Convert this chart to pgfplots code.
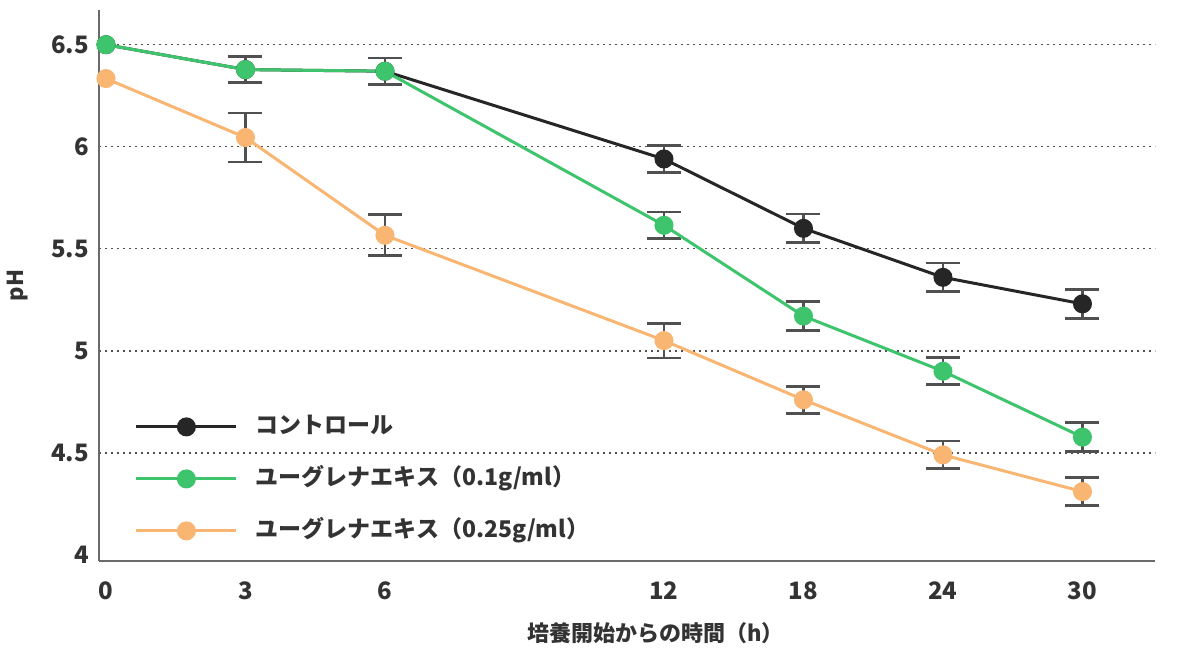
\documentclass[border=0pt]{standalone}
\usepackage{fontspec}
\setmainfont{Noto Sans CJK JP}
\usepackage{pgfplots}
\usepackage{pgfplotstable}
\pgfplotsset{compat=1.18}
\definecolor{cblack}{HTML}{262626}
\definecolor{cgreen}{HTML}{3DC46C}
\definecolor{corange}{HTML}{F9B572}
\definecolor{cerr}{HTML}{505050}
\definecolor{ctext}{HTML}{333333}
\definecolor{caxis}{HTML}{6A6A6A}

\pgfplotstableread{
x y
0 6.50
1 6.378
2 6.37
4 5.94
5 5.60
6 5.36
7 5.23
}\control
\pgfplotstableread{
x y ey
1 6.378 0.065
2 6.37 0.065
4 5.94 0.065
5 5.60 0.07
6 5.36 0.07
7 5.23 0.07
}\controlerr
\pgfplotstableread{
x y
0 6.50
1 6.378
2 6.37
4 5.615
5 5.17
6 4.90
7 4.577
}\green
\pgfplotstableread{
x y ey
1 6.378 0.065
2 6.37 0.065
4 5.615 0.065
5 5.17 0.07
6 4.90 0.066
7 4.577 0.07
}\greenerr
\pgfplotstableread{
x y
0 6.334
1 6.045
2 5.566
4 5.05
5 4.76
6 4.49
7 4.31
}\orange
\pgfplotstableread{
x y ey
1 6.045 0.12
2 5.566 0.10
4 5.05 0.085
5 4.76 0.067
6 4.49 0.068
7 4.31 0.068
}\orangeerr

\pgfplotsset{
  errstyle/.style={forget plot, draw=none, mark=none,
    error bars/.cd, y dir=both, y explicit,
    error bar style={draw=cerr, solid, line width=1.4pt},
    error mark options={rotate=90, mark size=8.5pt, line width=1.4pt, draw=cerr}},
  serstyle/.style={line width=1.5pt, color=#1, mark=*, mark size=4pt,
    mark options={fill=#1, draw=#1, solid}},
}

\begin{document}
\begin{tikzpicture}
\path[use as bounding box] (-49.5pt,-49pt) rectangle (545pt,280.5pt);
\begin{axis}[
  scale only axis, width=528pt, height=275.5pt,
  at={(0,0)}, anchor=south west,
  xmin=-0.05, xmax=7.52, ymin=3.97, ymax=6.67,
  clip=false,
  axis x line*=bottom, axis y line*=left,
  axis line style={caxis, line width=0.8pt, -},
  xtick={0,1,2,4,5,6,7}, xticklabels={0,3,6,12,18,24,30},
  ytick={4.5,5,5.5,6,6.5}, yticklabels={4.5,5,5.5,6,6.5},
  extra y ticks={4}, extra y tick labels={4}, extra y tick style={grid=none},
  major tick length=0pt,
  ymajorgrids, grid style={cerr, line width=0.7pt, dash pattern=on 1.2pt off 1.8pt},
  /pgf/number format/assume math mode=true,
  ticklabel style={font=\fontsize{12}{14}\selectfont\bfseries, text=ctext},
  xticklabel style={yshift=-7pt},
  yticklabel style={xshift=-1.5pt},
  xlabel={培養開始からの時間（h）},
  ylabel={pH},
  label style={font=\fontsize{11}{13}\selectfont\bfseries, text=ctext},
  xlabel style={at={(axis description cs:0.527,-0.1307)}, anchor=center},
  ylabel style={at={(axis description cs:-0.0767,0.5)}, anchor=center},
  legend style={draw=none, fill=none, at={(axis description cs:0.034,0.149)}, anchor=west,
    inner sep=0pt, outer sep=0pt, row sep=14.5pt, column sep=9pt,
    font=\fontsize{11.5}{13}\selectfont\bfseries, text=ctext,
    nodes={inner sep=0pt, text height=9pt, text depth=2.5pt}},
  legend cell align=left,
  legend image code/.code={
    \draw[#1, mark=none] (0pt,0pt) -- (50pt,0pt);
    \draw[#1, only marks] plot coordinates {(25pt,0pt)};
  },
]
\addplot[errstyle] table[x=x, y=y, y error=ey] {\controlerr};
\addplot[errstyle] table[x=x, y=y, y error=ey] {\greenerr};
\addplot[errstyle] table[x=x, y=y, y error=ey] {\orangeerr};
\addplot[serstyle=cblack] table[x=x, y=y] {\control};
\addlegendentry{コントロール}
\addplot[serstyle=cgreen] table[x=x, y=y] {\green};
\addlegendentry{ユーグレナエキス（0.1g/ml）}
\addplot[serstyle=corange] table[x=x, y=y] {\orange};
\addlegendentry{ユーグレナエキス（0.25g/ml）}
\end{axis}
\end{tikzpicture}
\end{document}
